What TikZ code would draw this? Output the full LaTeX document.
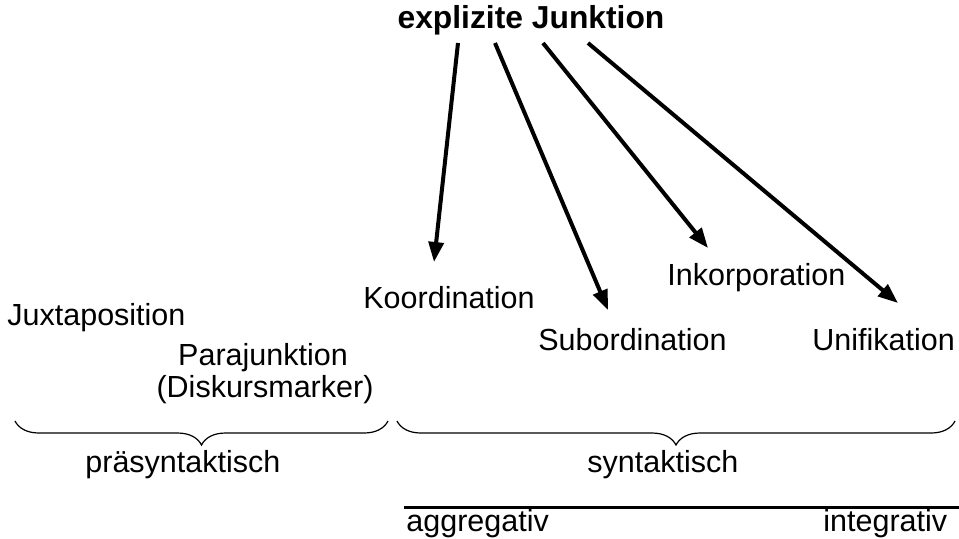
\documentclass[tikz,border=0pt]{standalone}
\usepackage{fontspec}
\setmainfont{Liberation Sans}
\usepackage{tikz}
\usetikzlibrary{arrows.meta,calc,decorations.pathreplacing}
\tikzset{
  % plain text label, placed by its baseline
  lbl/.style={inner sep=0pt, anchor=base west,
              font=\fontsize{15.25}{18}\selectfont},
  % centred label
  clbl/.style={lbl, anchor=base},
  % heading
  head/.style={inner sep=0pt, anchor=base,
               font=\fontsize{15.9}{19}\selectfont\bfseries},
  % arrows
  arr/.style={-{Triangle[length=10pt,width=7.5pt]}, line width=2pt},
  % curly brace under a group
  brc/.style={decorate, decoration={brace,mirror,amplitude=12pt},
              line width=0.6pt},
}

\begin{document}
\begin{tikzpicture}[x=0.5pt,y=-0.5pt]
    \useasboundingbox (0,0) rectangle (959,538);

    %% ── Heading ────────────────────────────────────────────
    \node[head] (expl) at (531,28) {explizite Junktion};

    %% ── Pre-syntactic forms ───────────────────────────────
    \node[lbl]  (juxt)  at (7,325)   {Juxtaposition};
    \node[clbl] (para)  at (263,365) {Parajunktion};
    \node[clbl] (disk)  at (265,397) {(Diskursmarker)};

    %% ── Syntactic forms ───────────────────────────────────
    \node[lbl] (koord)  at (363,308) {Koordination};
    \node[lbl] (subord) at (538,350) {Subordination};
    \node[lbl] (inkorp) at (667,285) {Inkorporation};
    \node[lbl] (unif)   at (812,350) {Unifikation};

    %% ── Arrows ────────────────────────────────────────────
    \draw[arr] ($(expl.base)+(-73,15)$) -- ($(koord.base west)+(71,-46)$);
    \draw[arr] ($(expl.base)+(-36,15)$) -- ($(subord.base west)+(70,-40)$);
    \draw[arr] ($(expl.base)+(12,15)$)  -- ($(inkorp.base west)+(41,-37)$);
    \draw[arr] ($(expl.base)+(57,15)$)  -- ($(unif.base west)+(86,-47)$);

    %% ── Braces ────────────────────────────────────────────
    \draw[brc] (15,421) -- (388,421);
    \draw[brc] (397,421) -- (955,421);
    \node[lbl] (praesyn) at (85,472)  {präsyntaktisch};
    \node[lbl] (syn)     at (587,472) {syntaktisch};

    %% ── Scale ─────────────────────────────────────────────
    \coordinate (scaleL) at (404,507);
    \coordinate (scaleR) at (959,507);
    \draw[line width=1.5pt] (scaleL) -- (scaleR);
    \node[lbl] (aggr)  at (406,531) {aggregativ};
    \node[lbl] (integ) at (823,531) {integrativ};

\end{tikzpicture}
\end{document}
